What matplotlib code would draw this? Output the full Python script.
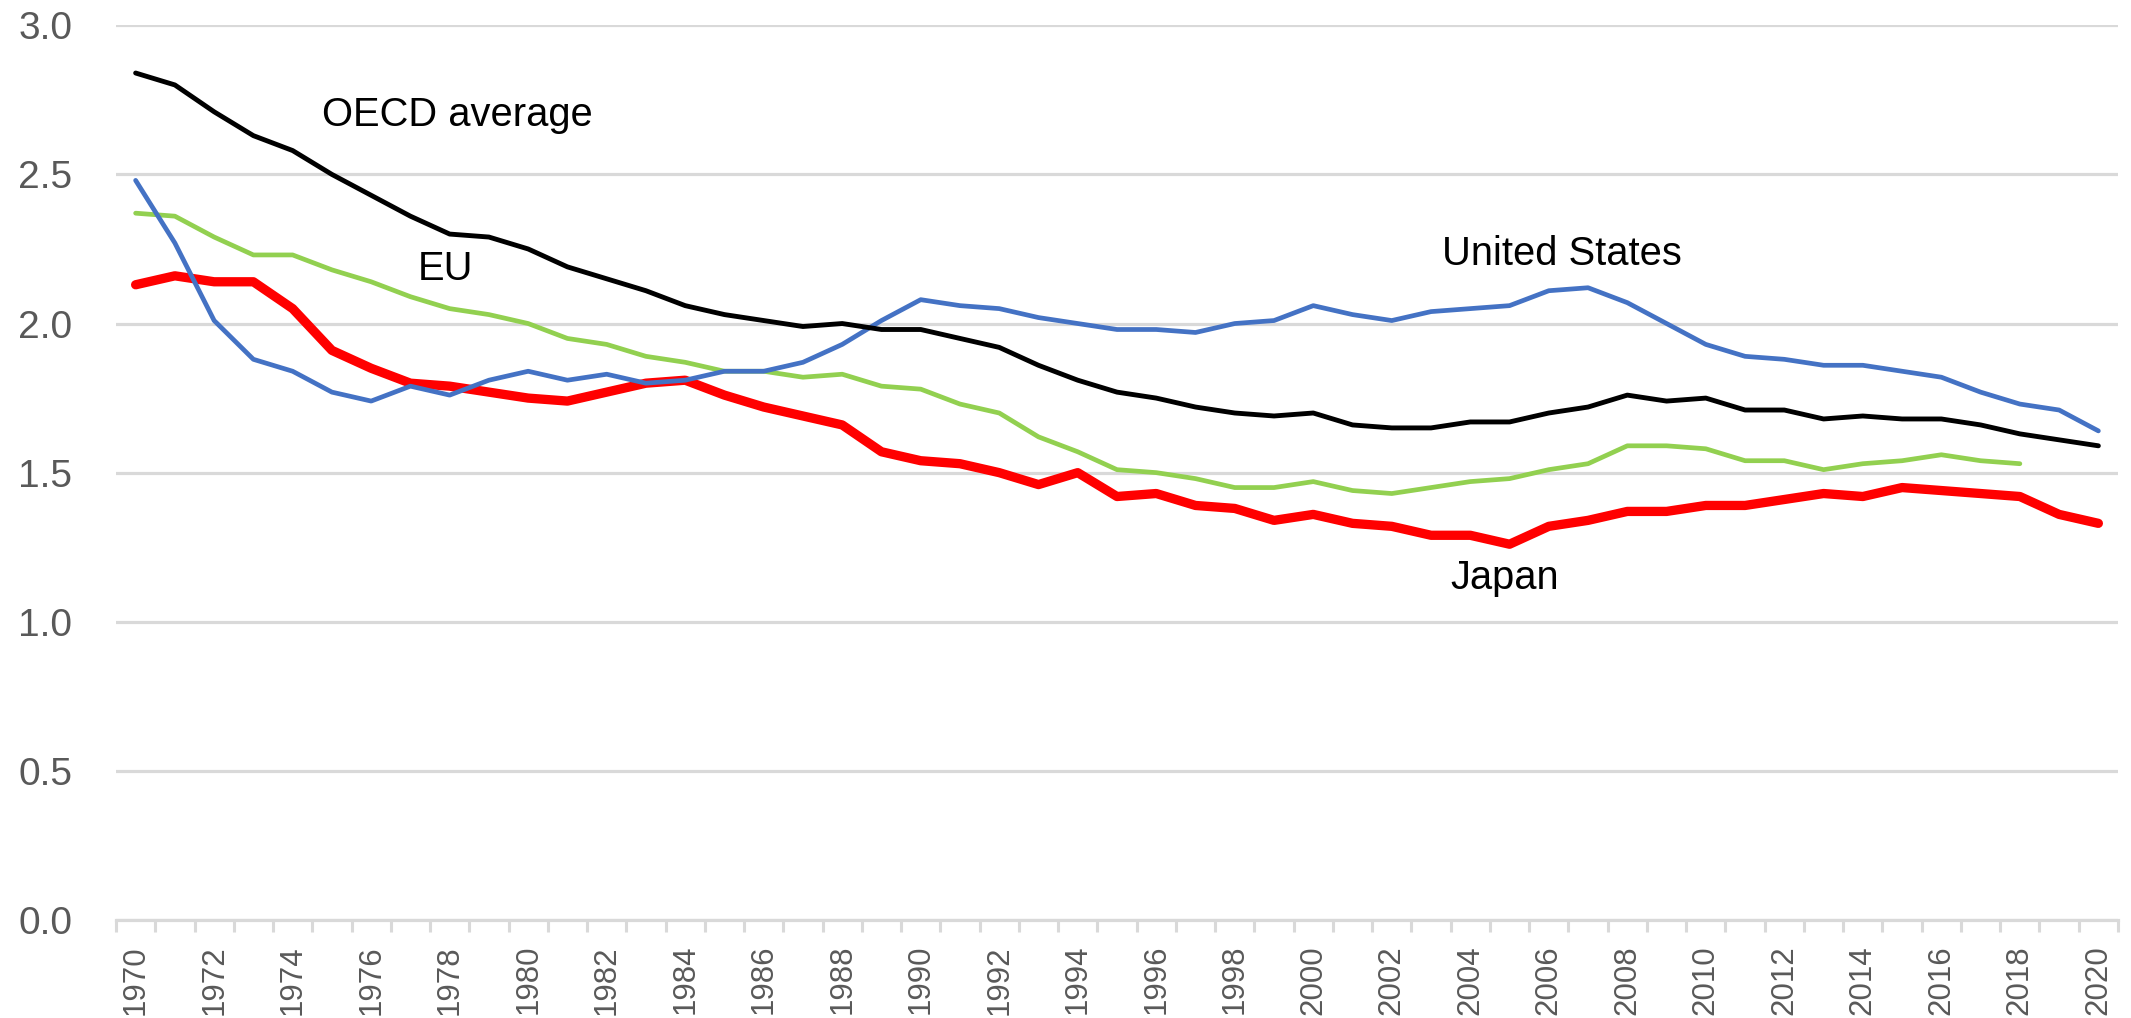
import matplotlib
matplotlib.use("Agg")
import matplotlib.pyplot as plt
import numpy as np

years = list(range(1970, 2021))

oecd = [2.84, 2.80, 2.71, 2.63, 2.58, 2.50, 2.43, 2.36, 2.30, 2.29,
        2.25, 2.19, 2.15, 2.11, 2.06, 2.03, 2.01, 1.99, 2.00, 1.98,
        1.98, 1.95, 1.92, 1.86, 1.81, 1.77, 1.75, 1.72, 1.70, 1.69,
        1.70, 1.66, 1.65, 1.65, 1.67, 1.67, 1.70, 1.72, 1.76, 1.74,
        1.75, 1.71, 1.71, 1.68, 1.69, 1.68, 1.68, 1.66, 1.63, 1.61,
        1.59]

# EU series stops at 2018
eu = [2.37, 2.36, 2.29, 2.23, 2.23, 2.18, 2.14, 2.09, 2.05, 2.03,
      2.00, 1.95, 1.93, 1.89, 1.87, 1.84, 1.84, 1.82, 1.83, 1.79,
      1.78, 1.73, 1.70, 1.62, 1.57, 1.51, 1.50, 1.48, 1.45, 1.45,
      1.47, 1.44, 1.43, 1.45, 1.47, 1.48, 1.51, 1.53, 1.59, 1.59,
      1.58, 1.54, 1.54, 1.51, 1.53, 1.54, 1.56, 1.54, 1.53, None,
      None]

usa = [2.48, 2.27, 2.01, 1.88, 1.84, 1.77, 1.74, 1.79, 1.76, 1.81,
       1.84, 1.81, 1.83, 1.80, 1.81, 1.84, 1.84, 1.87, 1.93, 2.01,
       2.08, 2.06, 2.05, 2.02, 2.00, 1.98, 1.98, 1.97, 2.00, 2.01,
       2.06, 2.03, 2.01, 2.04, 2.05, 2.06, 2.11, 2.12, 2.07, 2.00,
       1.93, 1.89, 1.88, 1.86, 1.86, 1.84, 1.82, 1.77, 1.73, 1.71,
       1.64]

japan = [2.13, 2.16, 2.14, 2.14, 2.05, 1.91, 1.85, 1.80, 1.79, 1.77,
         1.75, 1.74, 1.77, 1.80, 1.81, 1.76, 1.72, 1.69, 1.66, 1.57,
         1.54, 1.53, 1.50, 1.46, 1.50, 1.42, 1.43, 1.39, 1.38, 1.34,
         1.36, 1.33, 1.32, 1.29, 1.29, 1.26, 1.32, 1.34, 1.37, 1.37,
         1.39, 1.39, 1.41, 1.43, 1.42, 1.45, 1.44, 1.43, 1.42, 1.36,
         1.33]

yticks = [0.0, 0.5, 1.0, 1.5, 2.0, 2.5, 3.0]
label_years = years[::2]

grid_col = "#D9D9D9"
text_col = "#595959"

plt.rcParams["font.family"] = ["Liberation Sans", "DejaVu Sans"]

fig = plt.figure(figsize=(21.31, 10.18), dpi=100)
ax = fig.add_axes([116 / 2131, 1 - 920 / 1018, 2002 / 2131, (920 - 25.3) / 1018])

eu_arr = np.array([np.nan if v is None else v for v in eu], dtype=float)

kw = dict(solid_capstyle="round", solid_joinstyle="round")
ax.plot(years, japan, color="#FF0000", lw=6.7, zorder=3, **kw)
ax.plot(years, eu_arr, color="#92D050", lw=3.4, zorder=4, **kw)
ax.plot(years, usa, color="#4472C4", lw=3.4, zorder=5, **kw)
ax.plot(years, oecd, color="black", lw=3.5, zorder=6, **kw)

ax.set_xlim(years[0] - 0.5, years[-1] + 0.5)
ax.set_ylim(0, 3)

ax.set_yticks(yticks)
ax.set_yticklabels([f"{v:.1f}" for v in yticks])
ax.tick_params(axis="y", length=0, pad=31.5, labelsize=28, labelcolor=text_col)
ax.yaxis.grid(True, color=grid_col, lw=2.3)
ax.set_axisbelow(True)

# category boundaries get the tick marks, labels sit in the middle
bounds = [y - 0.5 for y in years] + [years[-1] + 0.5]
ax.set_xticks(bounds, minor=True)
ax.set_xticks(label_years)
ax.set_xticklabels([str(y) for y in label_years], rotation=90)
ax.tick_params(axis="x", which="major", length=0, pad=18, labelsize=22.5,
               labelcolor=text_col)
ax.tick_params(axis="x", which="minor", length=8.6, width=2.2, color=grid_col)

for s in ["left", "top", "right"]:
    ax.spines[s].set_visible(False)
ax.spines["bottom"].set_color(grid_col)
ax.spines["bottom"].set_linewidth(2.3)

ax.text(1974.75, 2.663, "OECD average", fontsize=28.7, ha="left", va="baseline")
ax.text(1977.19, 2.146, "EU", fontsize=28.7, ha="left", va="baseline")
ax.text(2003.28, 2.195, "United States", fontsize=28.7, ha="left", va="baseline")
ax.text(2003.49, 1.11, "Japan", fontsize=28.7, ha="left", va="baseline")

fig.savefig("out.png", dpi=100)
